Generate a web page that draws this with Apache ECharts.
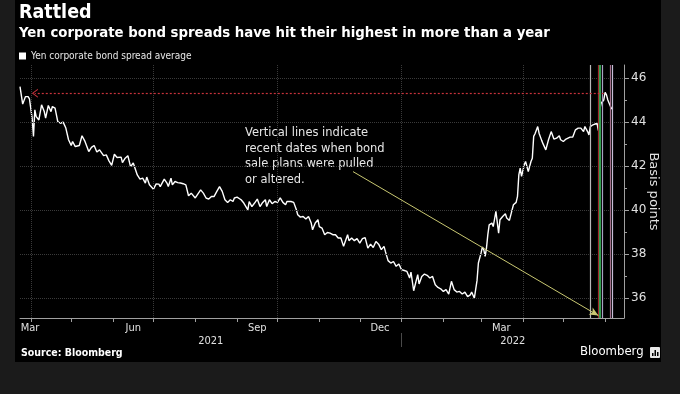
<!DOCTYPE html>
<html><head><meta charset="utf-8">
<script src="https://cdn.jsdelivr.net/npm/echarts@6/dist/echarts.min.js"></script>
<style>html,body{margin:0;padding:0;background:#1b1b1b;}#c{width:680px;height:394px;}</style>
</head><body><div id="c"></div>
<script>
// ---------- DATA ----------
const seriesName = 'Yen corporate bond spread average';
const dates = [
'2021-03-24','2021-03-25','2021-03-26','2021-03-28','2021-03-29','2021-03-30','2021-03-31','2021-04-02','2021-04-03','2021-04-04',
'2021-04-05','2021-04-07','2021-04-09','2021-04-11','2021-04-12','2021-04-14','2021-04-16','2021-04-17','2021-04-19','2021-04-20',
'2021-04-21','2021-04-23','2021-04-25','2021-04-27','2021-04-29','2021-05-01','2021-05-02','2021-05-04','2021-05-07','2021-05-09',
'2021-05-11','2021-05-12','2021-05-14','2021-05-16','2021-05-18','2021-05-20','2021-05-22','2021-05-25','2021-05-27','2021-05-29',
'2021-05-31','2021-06-02','2021-06-04','2021-06-07','2021-06-08','2021-06-10','2021-06-12','2021-06-14','2021-06-16','2021-06-17',
'2021-06-19','2021-06-21','2021-06-23','2021-06-25','2021-06-26','2021-06-28','2021-07-01','2021-07-03','2021-07-05','2021-07-06',
'2021-07-09','2021-07-11','2021-07-12','2021-07-14','2021-07-15','2021-07-17','2021-07-19','2021-07-21','2021-07-23','2021-07-25',
'2021-07-27','2021-07-29','2021-07-30','2021-08-01','2021-08-03','2021-08-05','2021-08-07','2021-08-09','2021-08-11','2021-08-13',
'2021-08-15','2021-08-17','2021-08-19','2021-08-21','2021-08-23','2021-08-25','2021-08-27','2021-08-29','2021-08-30','2021-09-01',
'2021-09-04','2021-09-06','2021-09-09','2021-09-10','2021-09-12','2021-09-14','2021-09-16','2021-09-18','2021-09-20','2021-09-22',
'2021-09-23','2021-09-25','2021-09-27','2021-09-29','2021-10-01','2021-10-03','2021-10-05','2021-10-07','2021-10-08','2021-10-11',
'2021-10-13','2021-10-15','2021-10-16','2021-10-18','2021-10-20','2021-10-22','2021-10-24','2021-10-26','2021-10-27','2021-10-29',
'2021-10-31','2021-11-01','2021-11-03','2021-11-05','2021-11-07','2021-11-09','2021-11-11','2021-11-13','2021-11-15','2021-11-17',
'2021-11-19','2021-11-22','2021-11-23','2021-11-25','2021-11-27','2021-11-29','2021-12-01','2021-12-03','2021-12-05','2021-12-07',
'2021-12-09','2021-12-11','2021-12-13','2021-12-15','2021-12-17','2021-12-19','2021-12-20','2021-12-22','2021-12-24','2021-12-26',
'2021-12-28','2021-12-30','2022-01-01','2022-01-03','2022-01-05','2022-01-07','2022-01-08','2022-01-10','2022-01-11','2022-01-13',
'2022-01-14','2022-01-16','2022-01-18','2022-01-20','2022-01-22','2022-01-24','2022-01-26','2022-01-28','2022-01-30','2022-02-01',
'2022-02-03','2022-02-05','2022-02-07','2022-02-09','2022-02-11','2022-02-13','2022-02-15','2022-02-17','2022-02-19','2022-02-21',
'2022-02-22','2022-02-24','2022-02-26','2022-02-27','2022-03-01','2022-03-02','2022-03-03','2022-03-04','2022-03-05','2022-03-06',
'2022-03-07','2022-03-09','2022-03-10','2022-03-12','2022-03-13','2022-03-14','2022-03-15','2022-03-17','2022-03-19','2022-03-20',
'2022-03-22','2022-03-24','2022-03-25','2022-03-27','2022-03-28','2022-03-29','2022-03-30','2022-03-31','2022-04-02','2022-04-03',
'2022-04-04','2022-04-05','2022-04-07','2022-04-08','2022-04-09','2022-04-10','2022-04-12','2022-04-13','2022-04-15','2022-04-16',
'2022-04-18','2022-04-20','2022-04-22','2022-04-24','2022-04-26','2022-04-28','2022-04-29','2022-05-01','2022-05-03','2022-05-04',
'2022-05-06','2022-05-08','2022-05-10','2022-05-12','2022-05-14','2022-05-16','2022-05-17','2022-05-19','2022-05-20','2022-05-21',
'2022-05-23','2022-05-24','2022-05-26','2022-05-27','2022-05-28','2022-05-29','2022-05-30','2022-05-31','2022-06-01','2022-06-02',
'2022-06-03','2022-06-04','2022-06-05','2022-06-06'
];
const values = [
45.62,45.66,44.82,45.16,45.09,45.16,45.06,44.18,43.35,44.56,
44.25,44.10,44.79,44.48,44.18,44.76,44.48,44.71,44.64,44.56,
44.03,43.95,44.00,43.73,43.20,42.94,43.12,42.89,42.94,43.38,
43.15,43.20,42.66,42.85,42.94,42.64,42.74,42.48,42.51,42.24,
42.03,42.54,42.39,42.41,42.16,42.36,42.47,41.98,42.14,42.06,
41.60,41.41,41.45,41.23,41.50,41.15,40.95,41.19,41.18,41.07,
41.41,41.23,41.07,41.45,41.15,41.30,41.25,41.23,41.20,41.15,
40.65,40.77,40.85,40.55,40.74,40.92,40.77,40.55,40.50,40.62,
40.62,40.85,41.07,40.85,40.47,40.35,40.47,40.39,40.55,40.59,
40.47,40.32,40.01,40.39,40.16,40.32,40.50,40.16,40.35,40.47,
40.16,40.47,40.29,40.39,40.35,40.55,40.35,40.24,40.39,40.39,
40.35,40.01,39.79,39.68,39.71,39.59,39.71,39.41,39.10,39.41,
39.56,39.25,39.18,38.88,38.98,38.95,38.88,38.88,38.73,38.73,
38.35,38.88,38.61,38.73,38.61,38.70,38.50,38.70,38.75,38.27,
38.45,38.30,38.57,38.45,38.20,38.35,38.12,37.70,37.59,37.66,
37.44,37.55,37.29,37.25,37.21,36.91,37.18,36.33,36.38,37.06,
36.64,36.98,37.09,37.03,36.91,36.98,36.60,36.48,36.42,36.30,
36.38,36.18,36.76,36.38,36.27,36.30,36.18,36.27,36.06,36.14,
36.27,35.99,36.80,37.59,38.05,38.32,38.20,37.89,38.27,38.88,
39.33,39.41,39.25,39.94,39.86,38.95,39.56,39.71,39.83,39.64,
39.53,40.01,40.24,40.35,40.62,41.60,41.91,41.53,42.06,42.21,
42.14,41.75,42.21,42.36,43.35,43.47,43.80,43.50,43.16,43.01,
42.74,43.20,43.57,43.23,43.27,43.38,43.20,43.12,43.23,43.20,
43.32,43.32,43.65,43.73,43.73,43.57,43.80,43.57,43.42,43.80,
43.88,43.83,43.95,43.62,44.56,44.86,44.79,45.01,45.36,45.24,
45.01,44.86,44.71,44.59
];
// dates when bond sale plans were pulled or altered
const eventDates = ['2022-05-21','2022-05-27','2022-05-28','2022-05-30','2022-06-05','2022-06-06'];
const peakLevel = 45.32;
const xMin = '2021-03-24', xMax = '2022-06-15';
const yMin = 35.09, yMax = 46.6;
const yTickValues = [36, 38, 40, 42, 44, 46];
const yMinorTickValues = [35, 37, 39, 41, 43, 45];
const monthTickDates = ['2021-04-01','2021-05-01','2021-06-01','2021-07-01','2021-08-01','2021-09-01','2021-10-01','2021-11-01','2021-12-01','2022-01-01','2022-02-01','2022-03-01','2022-04-01','2022-05-01','2022-06-01'];
const monthLabelDates = ['2021-03-24','2021-06-16','2021-09-16','2021-12-16','2022-03-16'];
const monthLabelTexts = ['Mar','Jun','Sep','Dec','Mar'];
const gridDates = ['2021-04-01','2021-07-01','2021-10-01','2022-01-01','2022-04-01'];
const yearLabels = ['2021','2022'];
const annotationText = 'Vertical lines indicate\nrecent dates when bond\nsale plans were pulled\nor altered.';
const arrowFrom = ['2021-11-26', 41.75];
const arrowTo = ['2022-05-27', 35.2];
const redArrowFrom = '2022-05-31', redArrowTo = '2021-04-04';

// ---------- CHART ----------
const T = s => +echarts.time.parse(s);
const F = "'DejaVu Sans Condensed','DejaVu Sans',sans-serif";
const FN = "'DejaVu Sans',sans-serif";
const chart = echarts.init(document.getElementById('c'), null, {renderer:'canvas'});
const labelMap = {};
monthLabelDates.forEach((d,i)=>{ labelMap[T(d)] = {text: monthLabelTexts[i], first: i===0}; });
const yearBounds = [T(xMin), T('2022-01-01'), T(xMax)];
const yearCenters = yearLabels.map((y,i)=> Math.round((yearBounds[i]+yearBounds[i+1])/2));
const yearMap = {}; yearCenters.forEach((c,i)=>{ yearMap[c] = yearLabels[i]; });
const eventColors = ['#b9b9b9','#9e2a2a','#34a050','#a9a2c4','#a3708c','#c6bed8'];
const chevron = 'path://M5,0 L10,10 L8.6,10 L5,2.6 L1.4,10 L0,10 Z';

chart.setOption({
  backgroundColor: '#000000',
  animation: false,
  grid: {left: 20, right: 56, top: 65, bottom: 76},
  legend: {
    data: [seriesName], left: 19, top: 51, icon: 'rect', itemWidth: 7, itemHeight: 7, itemGap: 4,
    padding: 0, selectedMode: false,
    textStyle: {color: '#e6e6e6', fontSize: 10, fontFamily: F}
  },
  xAxis: [
    {
      type: 'value', min: T(xMin), max: T(xMax), position: 'bottom',
      axisLine: {show: true, lineStyle: {color: '#a0a0a0', width: 1}},
      axisTick: {show: true, customValues: monthTickDates.map(T), length: 4, lineStyle: {color: '#a0a0a0'}},
      axisLabel: {
        customValues: monthLabelDates.map(T), color: '#e0e0e0', fontSize: 11, fontFamily: F, margin: 5,
        formatter: v => { const m = labelMap[v]; if (!m) return ''; return m.first ? '{f|' + m.text + '}' : m.text; },
        rich: {f: {color: '#e0e0e0', fontSize: 11, fontFamily: F, padding: [0,0,0,20]}}
      },
      splitLine: {show: false}
    },
    {
      type: 'value', min: T(xMin), max: T(xMax), position: 'bottom', offset: 15,
      axisLine: {show: false},
      axisTick: {show: true, customValues: [T('2022-01-01')], length: 14, lineStyle: {color: '#4a4a4a'}},
      axisLabel: {
        customValues: yearCenters, color: '#e0e0e0', fontSize: 11, fontFamily: F, margin: 3,
        formatter: v => yearMap[Math.round(v)] || ''
      },
      splitLine: {show: false}
    }
  ],
  yAxis: [
    {
      type: 'value', position: 'right', min: yMin, max: yMax,
      axisLine: {show: true, lineStyle: {color: '#a0a0a0'}},
      axisTick: {show: true, customValues: yTickValues, length: 5, lineStyle: {color: '#a0a0a0'}},
      axisLabel: {customValues: yTickValues, color: '#e0e0e0', fontSize: 12, fontFamily: FN, margin: 7},
      splitLine: {show: false},
      name: 'Basis points', nameLocation: 'middle', nameRotate: -90, nameGap: 23, nameMoveOverlap: false,
      nameTextStyle: {color: '#e0e0e0', fontSize: 13, fontFamily: FN}
    },
    {
      type: 'value', position: 'right', min: yMin, max: yMax,
      axisLine: {show: false},
      axisTick: {show: true, customValues: yMinorTickValues, length: 3, lineStyle: {color: '#a0a0a0'}},
      axisLabel: {show: false}, splitLine: {show: false}
    }
  ],
  series: [
    {
      type: 'line', data: [], z: 1, silent: true,
      markLine: {
        silent: true, symbol: ['none','none'], label: {show: false},
        lineStyle: {color: '#3a3a3a', type: 'dotted', width: 1},
        data: yTickValues.map(v => ({yAxis: v})).concat(gridDates.map(d => ({xAxis: T(d)})))
      }
    },
    {
      type: 'line', data: [], z: 2, silent: true,
      markLine: {
        silent: true, symbol: ['none','none'], label: {show: false},
        data: eventDates.map((d,i) => ({xAxis: T(d), lineStyle: {color: eventColors[i], width: i === 2 ? 2 : 1.2, type: 'solid'}}))
      }
    },
    {
      name: seriesName, type: 'line', z: 3,
      data: dates.map((d,i) => [T(d), values[i]]),
      showSymbol: false, symbol: 'none',
      lineStyle: {color: '#ffffff', width: 1.4},
      itemStyle: {color: '#ffffff'}
    },
    {
      type: 'line', data: [], z: 4, silent: true,
      markLine: {
        silent: true, label: {show: false}, symbol: ['none', chevron], symbolSize: [9, 6],
        lineStyle: {color: '#c8323c', type: [2, 2], width: 1.2, opacity: 1},
        data: [[{coord: [T(redArrowFrom), peakLevel]}, {coord: [T(redArrowTo), peakLevel]}]]
      }
    },
    {
      type: 'line', data: [], z: 4, silent: true,
      markLine: {
        silent: true, label: {show: false}, symbol: ['none', 'arrow'], symbolSize: [6, 9],
        lineStyle: {color: '#c9c872', type: 'solid', width: 1, opacity: 1},
        data: [[{coord: [T(arrowFrom[0]), arrowFrom[1]]}, {coord: [T(arrowTo[0]), arrowTo[1]]}]]
      }
    }
  ],
  graphic: [
    {type: 'rect', shape: {x: 0, y: 0, width: 15, height: 394}, style: {fill: '#1b1b1b'}, silent: true},
    {type: 'rect', shape: {x: 661, y: 0, width: 19, height: 394}, style: {fill: '#1b1b1b'}, silent: true},
    {type: 'rect', shape: {x: 0, y: 362, width: 680, height: 32}, style: {fill: '#1b1b1b'}, silent: true},
    {type: 'text', left: 19, top: 3, style: {text: 'Rattled', fill: '#ffffff', font: "bold 19.5px 'DejaVu Sans Condensed','DejaVu Sans',sans-serif"}},
    {type: 'text', left: 19, top: 26, style: {text: 'Yen corporate bond spreads have hit their highest in more than a year', fill: '#ffffff', font: "bold 14.8px 'DejaVu Sans Condensed','DejaVu Sans',sans-serif"}},
    {type: 'text', left: 245, top: 125, style: {text: annotationText, fill: '#e6e6e6', font: "11.5px 'DejaVu Sans',sans-serif", lineHeight: 15.7}},
    {type: 'text', left: 21, top: 348, style: {text: 'Source: Bloomberg', fill: '#ffffff', font: "bold 10.5px 'DejaVu Sans Condensed','DejaVu Sans',sans-serif"}},
    {type: 'text', left: 580, top: 345, style: {text: 'Bloomberg', fill: '#ffffff', font: "13px 'DejaVu Sans Condensed','DejaVu Sans',sans-serif"}},
    {type: 'rect', shape: {x: 650, y: 347, width: 10, height: 11, r: 1}, style: {fill: '#e8e8e8'}, silent: true},
    {type: 'rect', shape: {x: 652, y: 353, width: 1.5, height: 3}, style: {fill: '#000'}, silent: true},
    {type: 'rect', shape: {x: 654.5, y: 350, width: 1.5, height: 6}, style: {fill: '#000'}, silent: true},
    {type: 'rect', shape: {x: 657, y: 352, width: 1.5, height: 4}, style: {fill: '#000'}, silent: true}
  ]
});
</script></body></html>
